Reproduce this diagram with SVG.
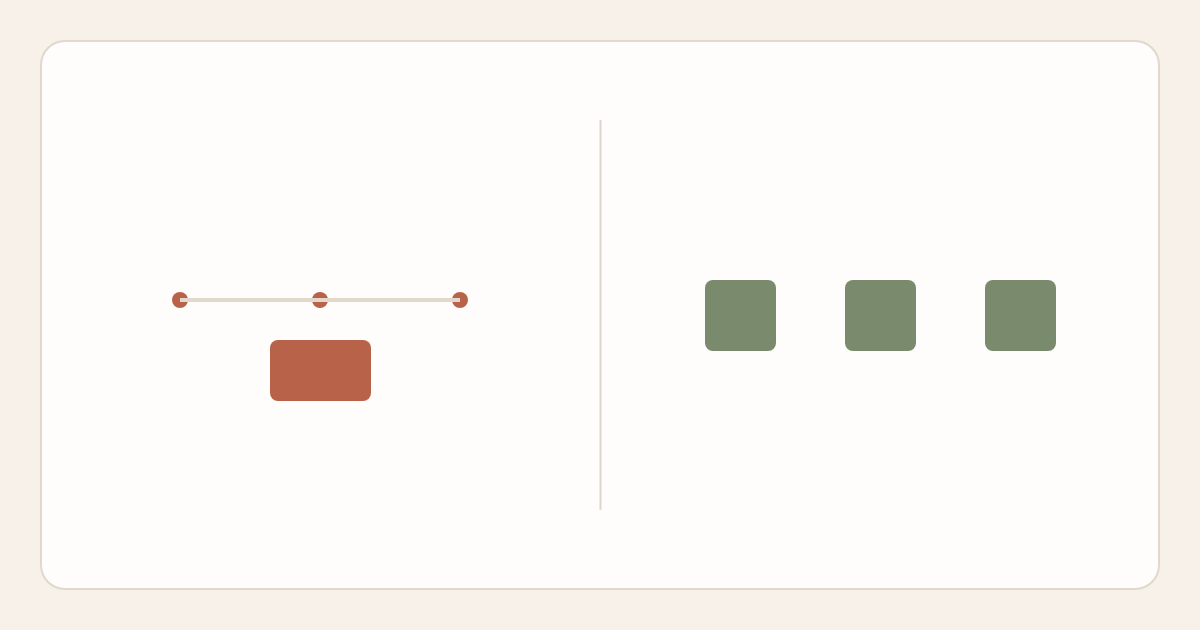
<svg xmlns="http://www.w3.org/2000/svg" width="1200" height="630" viewBox="0 0 1200 630">
  <style>
    .dot { fill: #b8624a; }
    .green { fill: #7a8b6d; }
    .conn { stroke: #e2d8cc; stroke-width: 4; fill: none; }
  </style>
  <rect x="0" y="0" width="1200" height="630" fill="#f7f1ea"/>
  <rect x="41" y="41" width="1118" height="548" rx="24" fill="#fffdfb" stroke="#e0d8ca" stroke-width="2"/>
  <line x1="600.5" y1="120" x2="600.5" y2="510" stroke="#ddd6ca" stroke-width="2"/>
  <g id="node-dot-1"><circle class="dot" cx="180" cy="300" r="8"/></g>
  <g id="node-dot-2"><circle class="dot" cx="320" cy="300" r="8"/></g>
  <g id="node-dot-3"><circle class="dot" cx="460" cy="300" r="8"/></g>
  <g id="connectors">
    <line class="conn" x1="180" y1="300" x2="460" y2="300"/>
  </g>
  <g id="node-block"><rect x="270" y="340" width="101" height="61" rx="8" fill="#b8624a"/></g>
  <g id="node-green-1"><rect class="green" x="705" y="280" width="71" height="71" rx="8"/></g>
  <g id="node-green-2"><rect class="green" x="845" y="280" width="71" height="71" rx="8"/></g>
  <g id="node-green-3"><rect class="green" x="985" y="280" width="71" height="71" rx="8"/></g>
</svg>
